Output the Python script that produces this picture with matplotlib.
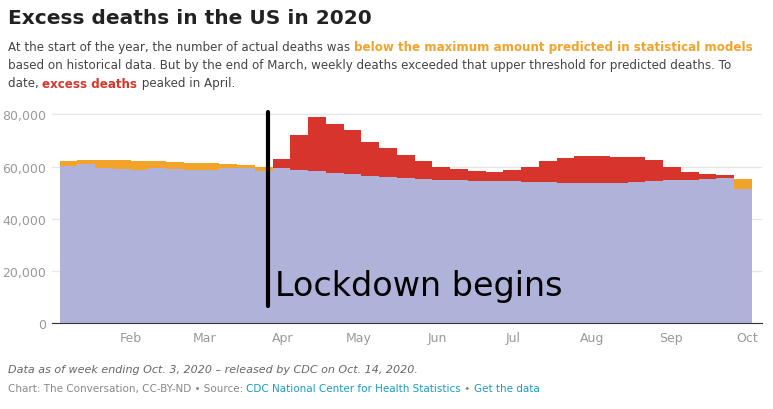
import numpy as np
import pandas as pd
import matplotlib.pyplot as plt
import matplotlib.dates as mdates

# weekly values, thousands of deaths
threshold = [62.0, 62.5, 62.5, 62.5, 62.3, 62.0, 61.8, 61.5, 61.2, 60.8, 60.5, 60.0,
             59.5, 58.8, 58.3, 57.7, 57.2, 56.5, 56.0, 55.7, 55.3, 55.0, 54.8, 54.6, 54.5,
             54.3, 54.2, 54.0, 53.8, 53.7, 53.7, 53.8, 54.0, 54.3, 54.7, 55.0, 55.3, 55.5,
             55.3]
actual = [60.3, 60.8, 59.3, 59.0, 58.7, 59.3, 59.0, 58.7, 58.7, 59.3, 59.6, 58.4,
          63.0, 72.2, 79.0, 76.5, 74.2, 69.5, 67.0, 64.5, 62.0, 60.0, 59.0, 58.3, 58.0,
          58.5, 60.0, 62.0, 63.3, 64.2, 64.0, 63.7, 63.5, 62.5, 60.0, 57.8, 57.0, 56.8,
          51.5]
yticks = [0, 20000, 40000, 60000, 80000]

th = np.array(threshold) * 1000
ac = np.array(actual) * 1000
edges = pd.date_range("2020-01-04", periods=len(th) + 1, freq="7D")
lo = np.minimum(th, ac)

fig = plt.figure(figsize=(7.73, 4.10), dpi=100)
ax = fig.add_axes([52 / 773, 86 / 410, 710 / 773, 219 / 410])

for i in range(len(th)):
    xs = [edges[i], edges[i + 1]]
    ax.fill_between(xs, 0, lo[i], color="#b0b3d9", lw=0)
    if ac[i] < th[i]:
        ax.fill_between(xs, ac[i], th[i], color="#f2a32a", lw=0)
    else:
        ax.fill_between(xs, th[i], ac[i], color="#d7352b", lw=0)

ax.set_ylim(0, 84000)
ax.set_xlim(pd.Timestamp("2020-01-01"), pd.Timestamp("2020-10-07"))
ax.set_yticks(yticks)
ax.set_yticklabels([f"{v:,}" for v in yticks])
ax.yaxis.grid(True, color="#e6e6e6", lw=1)
ax.set_axisbelow(True)
ax.xaxis.set_major_locator(mdates.MonthLocator(bymonth=range(2, 11)))
ax.xaxis.set_major_formatter(mdates.DateFormatter("%b"))
for s in ["top", "right", "left"]:
    ax.spines[s].set_visible(False)
ax.spines["bottom"].set_color("#333333")
ax.tick_params(axis="both", colors="#999999", labelsize=9, length=0, pad=6)
ax.tick_params(axis="y", pad=4)

ld = pd.Timestamp("2020-03-26")
ax.plot([ld, ld], [6500, 81000], color="black", lw=3, solid_capstyle="round")
ax.text(pd.Timestamp("2020-03-29"), 14500, "Lockdown begins", fontsize=24, color="black",
        va="center", ha="left")

fig.text(8 / 773, 1 - 18 / 410, "Excess deaths in the US in 2020", fontsize=14.5,
         fontweight="bold", color="#222222", va="center")
fs = 8.6
y1, y2, y3 = 1 - 48 / 410, 1 - 66 / 410, 1 - 84 / 410
t = fig.text(8 / 773, y1, "At the start of the year, the number of actual deaths was ",
             fontsize=fs, color="#444444", va="center")
fig.canvas.draw()
r = fig.canvas.get_renderer()
bb = t.get_window_extent(r)
fig.text(bb.x1 / fig.bbox.width, y1, "below the maximum amount predicted in statistical models",
         fontsize=fs, color="#f2a32a", fontweight="bold", va="center")
fig.text(8 / 773, y2, "based on historical data. But by the end of March, weekly deaths exceeded that "
         "upper threshold for predicted deaths. To", fontsize=fs, color="#444444", va="center")
t = fig.text(8 / 773, y3, "date, ", fontsize=fs, color="#444444", va="center")
bb = t.get_window_extent(r)
t2 = fig.text(bb.x1 / fig.bbox.width, y3, "excess deaths", fontsize=fs, color="#d7352b",
              fontweight="bold", va="center")
bb2 = t2.get_window_extent(r)
fig.text(bb2.x1 / fig.bbox.width, y3, " peaked in April.", fontsize=fs, color="#444444", va="center")

fig.text(8 / 773, 1 - 370 / 410, "Data as of week ending Oct. 3, 2020 \u2013 released by CDC on Oct. 14, 2020.",
         fontsize=8, style="italic", color="#666666", va="center")
t = fig.text(8 / 773, 1 - 389 / 410, "Chart: The Conversation, CC-BY-ND \u2022 Source: ",
             fontsize=7.5, color="#888888", va="center")
bb = t.get_window_extent(r)
t2 = fig.text(bb.x1 / fig.bbox.width, 1 - 389 / 410, "CDC National Center for Health Statistics",
              fontsize=7.5, color="#1a9bc7", va="center")
bb2 = t2.get_window_extent(r)
t3 = fig.text(bb2.x1 / fig.bbox.width, 1 - 389 / 410, " \u2022 ", fontsize=7.5, color="#888888", va="center")
bb3 = t3.get_window_extent(r)
fig.text(bb3.x1 / fig.bbox.width, 1 - 389 / 410, "Get the data", fontsize=7.5, color="#1a9bc7", va="center")

fig.savefig("out.png", dpi=100)
